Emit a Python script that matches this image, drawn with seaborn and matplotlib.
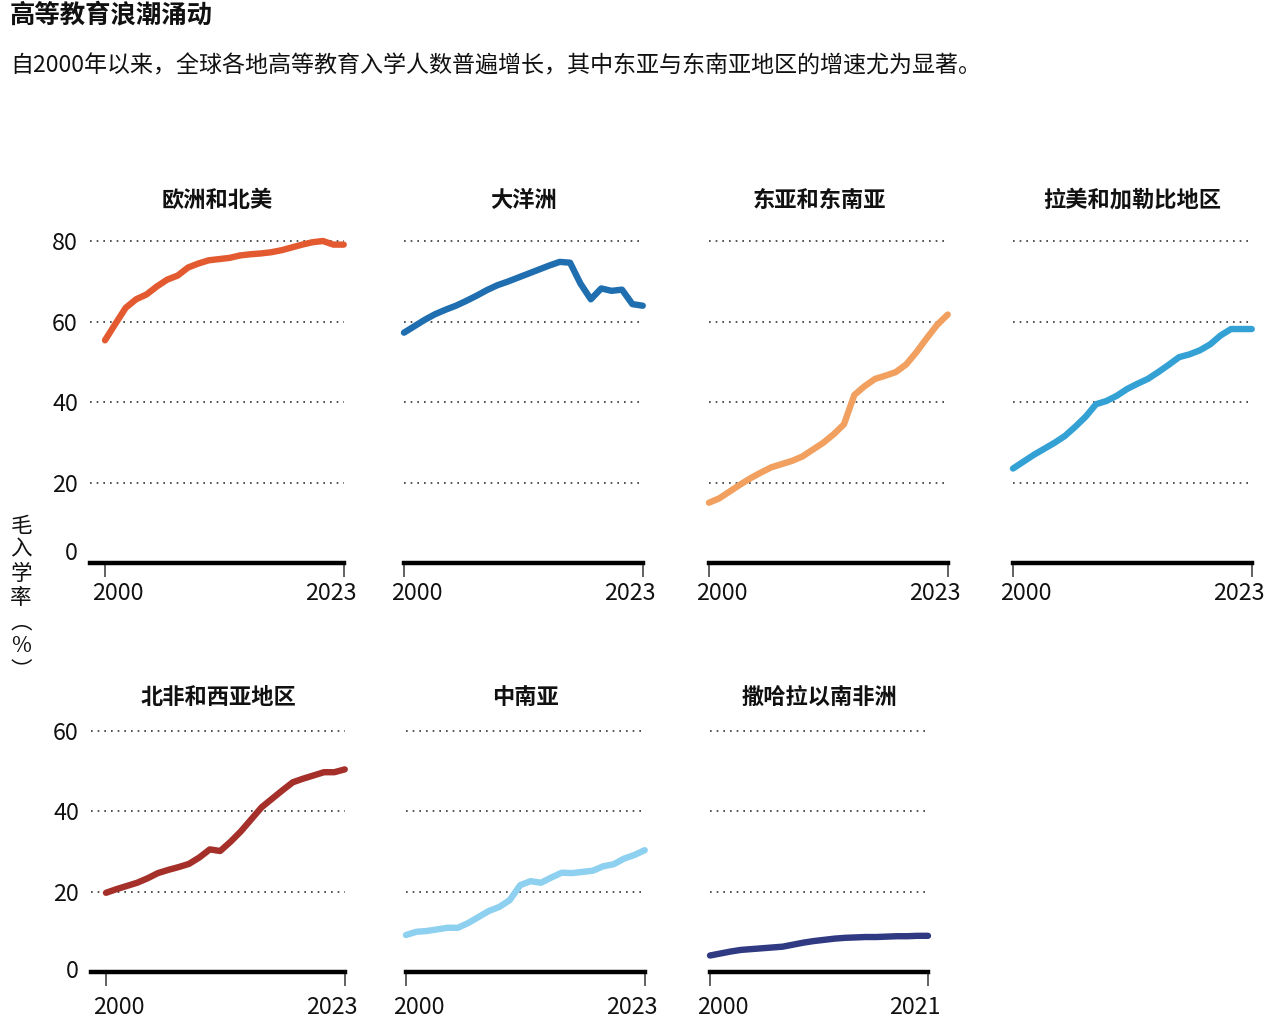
import seaborn as sns
import matplotlib.pyplot as plt
import numpy as np
import pandas as pd

# 各地区高等教育毛入学率（%），按年份读取
years_23 = list(range(2000, 2024))
years_21 = list(range(2000, 2022))

europe_na = [55.4, 59.5, 63.5, 65.6, 66.8, 68.8, 70.5, 71.5, 73.5, 74.5, 75.3, 75.6,
             75.9, 76.5, 76.8, 77.0, 77.3, 77.8, 78.5, 79.2, 79.8, 80.1, 79.2, 79.2]
oceania = [57.3, 58.9, 60.5, 61.9, 63.0, 64.0, 65.2, 66.5, 67.9, 69.1, 70.0, 71.0,
           72.0, 73.0, 74.0, 74.9, 74.7, 69.5, 65.6, 68.3, 67.7, 68.0, 64.4, 64.0]
east_asia = [15.0, 16.1, 17.8, 19.5, 21.1, 22.5, 23.8, 24.6, 25.4, 26.5, 28.2, 29.9,
             32.0, 34.5, 41.8, 44.0, 45.8, 46.6, 47.5, 49.4, 52.5, 56.0, 59.3, 61.8]
latam = [23.5, 25.2, 26.9, 28.4, 29.9, 31.6, 33.9, 36.4, 39.5, 40.3, 41.6, 43.3,
         44.6, 45.8, 47.5, 49.3, 51.2, 51.9, 52.9, 54.4, 56.6, 58.2, 58.2, 58.2]
nafrica_wasia = [19.7, 20.6, 21.4, 22.2, 23.3, 24.6, 25.4, 26.1, 26.9, 28.5, 30.5, 30.1,
                 32.4, 35.0, 38.0, 41.0, 43.1, 45.2, 47.2, 48.1, 48.9, 49.7, 49.7, 50.4]
cs_asia = [9.2, 10.0, 10.2, 10.6, 11.0, 11.0, 12.2, 13.7, 15.2, 16.2, 17.9, 21.6,
           22.6, 22.2, 23.5, 24.7, 24.6, 24.9, 25.2, 26.3, 26.8, 28.2, 29.1, 30.3]
ssa = [4.1, 4.6, 5.1, 5.5, 5.7, 5.9, 6.1, 6.3, 6.8, 7.3, 7.7, 8.0,
       8.3, 8.5, 8.6, 8.7, 8.7, 8.8, 8.9, 8.9, 9.0, 9.0]

titles = ['欧洲和北美', '大洋洲', '东亚和东南亚', '拉美和加勒比地区',
          '北非和西亚地区', '中南亚', '撒哈拉以南非洲']
series = [europe_na, oceania, east_asia, latam, nafrica_wasia, cs_asia, ssa]
year_lists = [years_23] * 6 + [years_21]
colors = ['#E35A30', '#1F6EAF', '#F1A060', '#34A1D5', '#A5302A', '#8ED0EF', '#2F3A82']
top_ticks = [20, 40, 60, 80]
bottom_ticks = [20, 40, 60]

sns.set_theme(style='white')
plt.rcParams['font.family'] = ['Noto Sans CJK SC', 'DejaVu Sans']

W, H = 1267, 1024
fig = plt.figure(figsize=(W / 100, H / 100), dpi=100)

PX_YEAR = 10.38
PX_UNIT = 4.02
# 每个小图 2000 年刻度所在像素位置 (x) 与基线位置 (y)
x0_px = [105, 404, 709, 1013, 106, 406, 710]
base_px = [563] * 4 + [972] * 3
ytop = [85] * 4 + [63] * 3
title_dx = [0, 0, -9, 0, 0, 0, 0]

for i in range(7):
    yrs = year_lists[i]
    col = i % 4
    start = 1998.6 if col == 0 else 2000
    end = yrs[-1]
    left = x0_px[i] - (2000 - start) * PX_YEAR
    width = (end - start) * PX_YEAR
    height = ytop[i] * PX_UNIT
    bottom = H - base_px[i]
    ax = fig.add_axes([left / W, bottom / H, width / W, height / H])

    ticks = top_ticks if i < 4 else bottom_ticks
    for t in ticks:
        ax.axhline(t, color='#333333', lw=1.2, ls=(0, (1, 3)), zorder=1)

    df = pd.DataFrame({'year': yrs, 'value': series[i]})
    sns.lineplot(data=df, x='year', y='value', ax=ax, color=colors[i], linewidth=4.6,
                 solid_capstyle='round', solid_joinstyle='round', zorder=3, clip_on=False)

    ax.set_xlim(start, end)
    ax.set_ylim(0, ytop[i])
    for s in ['top', 'right', 'left']:
        ax.spines[s].set_visible(False)
    ax.spines['bottom'].set_color('black')
    ax.spines['bottom'].set_linewidth(3.2)
    ax.spines['bottom'].set_zorder(4)
    ax.set_xticks([2000, end])
    ax.set_xticklabels(['', ''])
    ax.tick_params(axis='x', direction='out', length=10, width=1.3, color='#555555', bottom=True)
    ax.set_xlabel('')
    ax.set_ylabel('')

    lab_dy = -31 if i < 4 else -35
    ax.annotate('2000', xy=(2000, 0), xycoords=('data', 'axes fraction'),
                xytext=(13 * 0.72, lab_dy * 0.72), textcoords='offset points',
                ha='center', va='center', fontsize=16.8, color='#111111')
    ax.annotate(str(end), xy=(end, 0), xycoords=('data', 'axes fraction'),
                xytext=(-13 * 0.72, lab_dy * 0.72), textcoords='offset points',
                ha='center', va='center', fontsize=16.8, color='#111111')

    if col == 0:
        ax.set_yticks(ticks)
        ax.set_yticklabels([str(t) for t in ticks], fontsize=16.8, color='#111111')
        ax.tick_params(axis='y', length=0, pad=9)
        zero_dy = 10 if i < 4 else 0
        ax.annotate('0', xy=(0, 0), xycoords='axes fraction',
                    xytext=(-9, zero_dy * 0.72), textcoords='offset points',
                    ha='right', va='center', fontsize=16.8, color='#111111')
    else:
        ax.set_yticks([])

    ax.annotate(titles[i], xy=(0.5, 1), xycoords='axes fraction',
                xytext=(title_dx[i] * 0.72, 21 * 0.72), textcoords='offset points',
                ha='center', va='center', fontsize=16, fontweight='bold', color='#111111')

fig.text(10 / W, 1 - 15 / H, '高等教育浪潮涌动', fontsize=18.3, fontweight='bold',
         ha='left', va='center', color='#111111')
fig.text(10 / W, 1 - 66 / H, '自2000年以来，全球各地高等教育入学人数普遍增长，其中东亚与东南亚地区的增速尤为显著。',
         fontsize=16.6, ha='left', va='center', color='#111111')
fig.text(21 / W, 1 - 598 / H, '\n'.join(['毛', '入', '学', '率', '︵', '%', '︶']),
         fontsize=15.5, ha='center', va='center', linespacing=1.12, color='#111111')

fig.savefig('out.png', dpi=100)
